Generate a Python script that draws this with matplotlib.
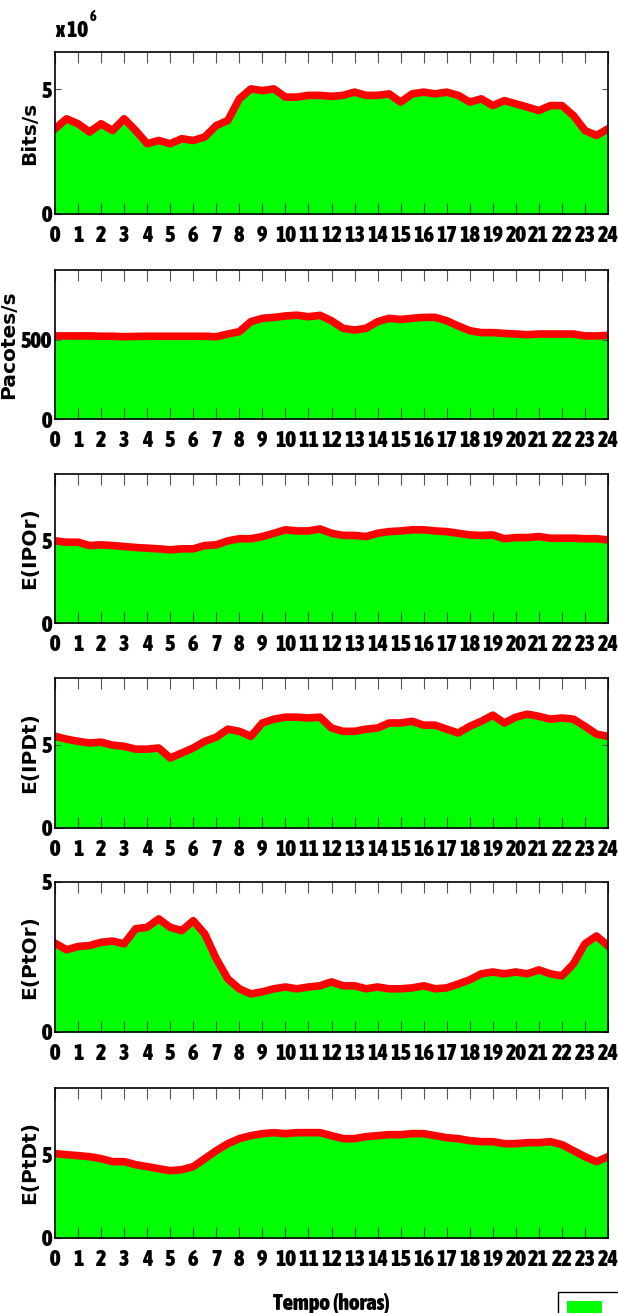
import matplotlib
matplotlib.use('Agg')
import matplotlib.pyplot as plt
import numpy as np
from matplotlib.patches import Patch
from matplotlib import font_manager

# horas (passo de meia hora)
horas = np.arange(0, 24.5, 0.5)

bits = np.array([3.42, 3.82, 3.62, 3.29, 3.62, 3.35, 3.82, 3.35, 2.82, 2.95,
                 2.82, 3.02, 2.95, 3.09, 3.55, 3.75, 4.62, 5.02, 4.95, 5.02,
                 4.69, 4.69, 4.76, 4.76, 4.72, 4.76, 4.89, 4.76, 4.76, 4.82,
                 4.49, 4.82, 4.89, 4.82, 4.89, 4.76, 4.49, 4.62, 4.35, 4.55,
                 4.42, 4.29, 4.15, 4.35, 4.35, 3.95, 3.35, 3.15, 3.42]) * 1e6

pacotes = [524, 524, 524, 524, 522, 522, 519, 521, 522, 522,
           522, 522, 522, 522, 519, 536, 551, 614, 635, 641,
           650, 655, 645, 654, 620, 572, 561, 572, 614, 635,
           628, 635, 641, 641, 620, 587, 557, 545, 545, 540,
           536, 532, 536, 536, 536, 536, 524, 524, 528]

e_ipor = [4.96, 4.88, 4.88, 4.68, 4.72, 4.68, 4.62, 4.56, 4.52, 4.48,
          4.42, 4.48, 4.48, 4.68, 4.72, 4.96, 5.09, 5.09, 5.22, 5.42,
          5.63, 5.56, 5.56, 5.68, 5.42, 5.29, 5.29, 5.22, 5.42, 5.52,
          5.56, 5.63, 5.63, 5.56, 5.52, 5.42, 5.32, 5.29, 5.32, 5.09,
          5.16, 5.16, 5.22, 5.12, 5.12, 5.12, 5.09, 5.09, 5.02]

e_ipdt = [5.50, 5.33, 5.20, 5.10, 5.15, 4.97, 4.90, 4.73, 4.73, 4.80,
          4.20, 4.50, 4.80, 5.20, 5.45, 5.93, 5.80, 5.50, 6.30, 6.53,
          6.65, 6.65, 6.60, 6.65, 6.00, 5.80, 5.80, 5.93, 6.00, 6.30,
          6.30, 6.40, 6.17, 6.17, 5.93, 5.70, 6.10, 6.40, 6.77, 6.30,
          6.65, 6.83, 6.70, 6.53, 6.60, 6.53, 6.10, 5.63, 5.50]

e_ptor = [2.96, 2.74, 2.85, 2.88, 2.99, 3.03, 2.94, 3.44, 3.49, 3.77,
          3.49, 3.38, 3.71, 3.27, 2.44, 1.77, 1.44, 1.27, 1.34, 1.44,
          1.50, 1.44, 1.50, 1.54, 1.67, 1.54, 1.54, 1.44, 1.50, 1.44,
          1.44, 1.47, 1.54, 1.44, 1.47, 1.60, 1.74, 1.94, 2.00, 1.94,
          2.00, 1.94, 2.07, 1.94, 1.87, 2.27, 2.94, 3.20, 2.87]

e_ptdt = [5.06, 5.00, 4.94, 4.88, 4.76, 4.58, 4.58, 4.40, 4.28, 4.16,
          4.04, 4.10, 4.28, 4.76, 5.24, 5.66, 5.96, 6.14, 6.26, 6.32,
          6.26, 6.32, 6.32, 6.32, 6.14, 5.96, 5.96, 6.08, 6.14, 6.20,
          6.20, 6.26, 6.26, 6.14, 6.02, 5.96, 5.84, 5.78, 5.78, 5.66,
          5.66, 5.72, 5.72, 5.78, 5.60, 5.24, 4.88, 4.58, 4.88]

rotulos = ['Bits/s', 'Pacotes/s', 'E(IPOr)', 'E(IPDt)', 'E(PtOr)', 'E(PtDt)']
series = [bits, pacotes, e_ipor, e_ipdt, e_ptor, e_ptdt]
ylims = [6.5e6, 940, 9, 9, 5, 9]
yticks = [[0, 5e6], [0, 500], [0, 5], [0, 5], [0, 5], [0, 5]]
yticklabels = [['0', '5'], ['0', '500'], ['0', '5'], ['0', '5'], ['0', '5'], ['0', '5']]


# procura uma fonte estreita (narrow/condensed), de preferencia negrito
def peso(w):
    if isinstance(w, str):
        return 700 if 'bold' in w else 400
    return w


estreitas = [f for f in font_manager.fontManager.ttflist
             if ('Narrow' in f.name or 'Condensed' in f.name
                 or 'condensed' in str(f.stretch)) and f.style == 'normal']
estreitas.sort(key=lambda f: -peso(f.weight))
if estreitas:
    fp_num = font_manager.FontProperties(fname=estreitas[0].fname, size=16)
    fp_y = font_manager.FontProperties(fname=estreitas[0].fname, size=16)
    fp_lab = font_manager.FontProperties(fname=estreitas[0].fname, size=16)
    fp_x10 = font_manager.FontProperties(fname=estreitas[0].fname, size=16)
    fp_sup = font_manager.FontProperties(fname=estreitas[0].fname, size=10)
    xpad = 8
else:
    fp_num = font_manager.FontProperties(family='Liberation Sans', weight='bold', size=13)
    fp_y = font_manager.FontProperties(family='Liberation Sans', weight='bold', size=14)
    fp_lab = font_manager.FontProperties(family='Liberation Sans', weight='bold', size=13.5)
    fp_x10 = font_manager.FontProperties(family='Liberation Sans', size=14)
    fp_sup = font_manager.FontProperties(family='Liberation Sans', size=9)
    xpad = 9

W, H = 618, 1313
fig = plt.figure(figsize=(W / 100, H / 100), dpi=100)

# posicoes dos paineis em pixels (topo, base)
paineis = [(52, 214), (270, 419), (474, 623), (678, 828), (882, 1032), (1088, 1238)]
x0, x1 = 55, 608

for i, (topo, base) in enumerate(paineis):
    ax = fig.add_axes([x0 / W, 1 - base / H, (x1 - x0) / W, (base - topo) / H])
    y = series[i]
    ax.fill_between(horas, 0, y, color='#00ff00', lw=0)
    ax.plot(horas, y, color='#ff0000', lw=5.5)
    ax.set_xlim(0, 24)
    ax.set_ylim(0, ylims[i])
    ax.set_xticks(range(25))
    ax.set_xticklabels([str(h) for h in range(25)], fontproperties=fp_num)
    ax.set_yticks(yticks[i])
    ax.set_yticklabels(yticklabels[i], fontproperties=fp_y)
    ax.tick_params(axis='x', direction='in', top=True, length=8, width=0.8,
                   color='#555555', pad=xpad)
    ax.tick_params(axis='y', direction='in', right=True, length=4, width=0.8,
                   color='#555555', pad=2)
    for s in ax.spines.values():
        s.set_linewidth(1.2)
    ax.set_ylabel(rotulos[i], fontfamily='DejaVu Sans', fontweight='bold',
                  fontsize=14.5, labelpad=2)
    if i == 0:
        ax.text(0.0, 1.06, 'x 10', transform=ax.transAxes,
                fontproperties=fp_x10, va='bottom', ha='left')
        ax.text(0.062, 1.17, '6', transform=ax.transAxes,
                fontproperties=fp_sup, va='bottom', ha='left')
    if i == 5:
        ax.set_xlabel('Tempo (horas)', fontproperties=fp_lab, labelpad=16)

fig.legend(handles=[Patch(facecolor='#00ff00', edgecolor='none', label='T(x)')],
           loc='upper left', bbox_to_anchor=(558 / W, 1 - 1292 / H),
           borderaxespad=0, frameon=True, fancybox=False, edgecolor='black',
           framealpha=1, prop=fp_lab, handlelength=1.6, handleheight=1.0,
           borderpad=0.4)

fig.savefig('out.png', dpi=100)
